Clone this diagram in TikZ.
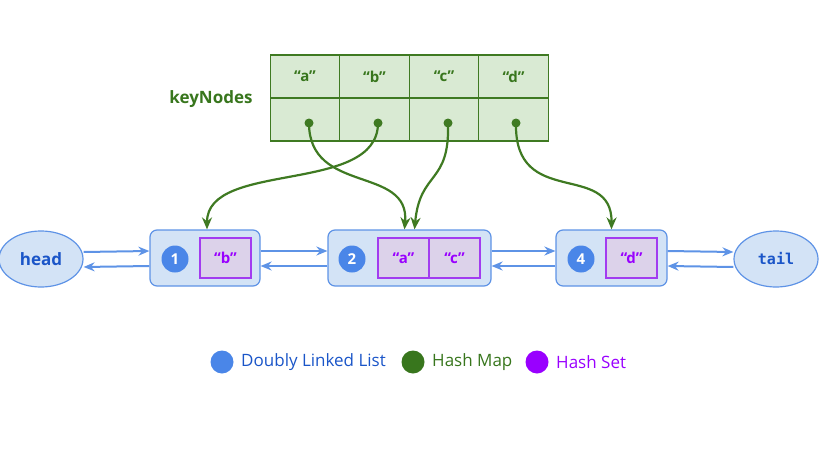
\documentclass[tikz,border=0pt]{standalone}
\usepackage{fontspec}
\setmainfont{Open Sans}
\newfontfamily\monofont{DejaVu Sans Mono}
\usetikzlibrary{shapes.geometric,arrows.meta,positioning}
\definecolor{list edge}{HTML}{5E93E6}
\definecolor{list area}{HTML}{D3E3F6}
\definecolor{list dot}{HTML}{4A86E8}
\definecolor{list text}{HTML}{1A55C8}
\definecolor{map edge}{HTML}{3F7A22}
\definecolor{map area}{HTML}{D9EAD3}
\definecolor{map text}{HTML}{38761D}
\definecolor{set edge}{HTML}{A23CF0}
\definecolor{set area}{HTML}{DCD2EA}
\definecolor{set text}{HTML}{9900FF}
\def\bigfont{\fontsize{17}{20}\selectfont}
\def\midfont{\fontsize{15}{18}\selectfont}
\tikzset{endnode/.style={ellipse, fill=list area, draw=list edge, line width=1.2pt, minimum width=84pt, minimum height=56pt, text=list text, font=\bfseries\bigfont},
	listbox/.style={rounded corners=7pt, fill=list area, draw=list edge, line width=1.2pt, minimum height=56pt},
	numdot/.style={circle, fill=list dot, text=white, minimum size=27pt, inner sep=0pt, font=\bfseries\midfont},
	setbox/.style={fill=set area, draw=set edge, line width=1.2pt, minimum width=51pt, minimum height=40pt, text=set text, font=\bfseries\midfont},
	mapcell/.style={fill=map area, draw=map edge, line width=1.2pt, minimum width=69.5pt, minimum height=43pt, text=map text, font=\bfseries\midfont},
	linkarrow/.style={draw=list edge, line width=2pt, -{Stealth[length=11pt,width=9pt]}},
	keyarrow/.style={draw=map edge, line width=2.2pt, -{Stealth[length=12pt,width=10pt]}},
	legend/.style={circle, minimum size=23pt, inner sep=0pt}}

\begin{document}
\begin{tikzpicture}[x=1pt,y=-1pt]
		\useasboundingbox (0,0) rectangle (819,460);
		% hash map keyNodes
		\node[text=map text, font=\bfseries\bigfont] (keys) at (211,99) {keyNodes};
		\foreach \k/\x in {a/305, b/374.5, c/444, d/513.5} {
			\node[mapcell] (key\k) at (\x,76.5) {``\k''};
			\node[mapcell] (ptr\k) at (\x,119.5) {};
		}
		\foreach \k/\x in {a/309, b/378, c/448, d/516}
			\fill[map edge] (\x,123) circle (4.5pt) coordinate (dot\k);
		% doubly linked list
		\node[endnode] (head) at (41,259) {head};
		\node[endnode, font=\monofont\bfseries\midfont] (tail) at (776,259) {tail};
		\node[listbox, minimum width=110pt] (n1) at (205,258) {};
		\node[listbox, minimum width=163pt] (n2) at (409.5,258) {};
		\node[listbox, minimum width=111pt] (n4) at (611.5,258) {};
		\node[numdot] (n1num) at (175,259) {1};
		\node[numdot] (n2num) at (352,259) {2};
		\node[numdot] (n4num) at (581,259) {4};
		\node[setbox] (n1b) at (225.5,258) {``b''};
		\node[setbox] (n2a) at (403.5,258) {``a''};
		\node[setbox] (n2c) at (454.5,258) {``c''};
		\node[setbox] (n4d) at (631.5,258) {``d''};
		% next / prev links
		\foreach \u/\v in {head/n1, n1/n2, n2/n4, n4/tail} {
			\draw[linkarrow] ([yshift=7pt]\u.east) -- ([yshift=7pt]\v.west);
			\draw[linkarrow] ([yshift=-8pt]\v.west) -- ([yshift=-8pt]\u.east);
		}
		% keyNodes pointers
		\draw[keyarrow] (dota) .. controls (309,195) and (410,165) .. ([xshift=-5pt]n2.north);
		\draw[keyarrow] (dotb) .. controls (378,195) and (207,160) .. ([xshift=2pt]n1.north);
		\draw[keyarrow] (dotc) .. controls (450,185) and (420,170) .. ([xshift=5pt]n2.north);
		\draw[keyarrow] (dotd) .. controls (514,210) and (612,160) .. (n4.north);
		% legend
		\node[legend, fill=list dot] (lgList) at (222,362) {};
		\node[right=4pt of lgList, text=list text, font=\bigfont] (lgListText) {Doubly Linked List};
		\node[legend, fill=map text] (lgMap) at (413,362) {};
		\node[right=4pt of lgMap, text=map text, font=\bigfont] (lgMapText) {Hash Map};
		\node[legend, fill=set text] (lgSet) at (537,362) {};
		\node[right=4pt of lgSet, text=set text, font=\bigfont] (lgSetText) {Hash Set};
		\end{tikzpicture}
\end{document}
